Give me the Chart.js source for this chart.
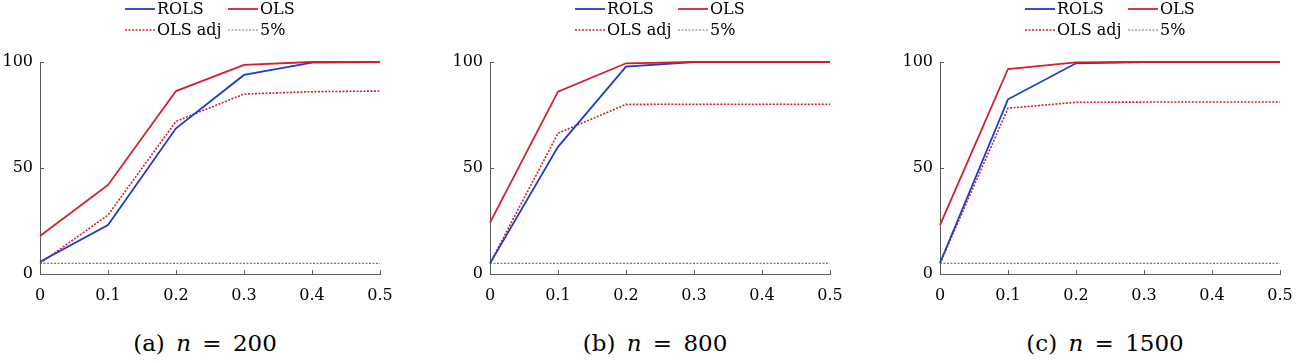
<!DOCTYPE html>
<html>
<head>
<meta charset="utf-8">
<script src="https://cdn.jsdelivr.net/npm/chart.js@4.4.0/dist/chart.umd.min.js"></script>
<style>
    body { margin: 0; width: 1296px; height: 363px; overflow: hidden; background: #fff; position: relative; font-family: "DejaVu Serif", serif; }
    .panel { position: absolute; top: 0; width: 432px; height: 363px; }
    .panel canvas { position: absolute; left: 0; top: 0; }
    .cap { position: absolute; top: 326px; left: 0; width: 410px; text-align: center; font-size: 23px; line-height: 34px; word-spacing: 4px; color: #000; }
</style>
</head>
<body>
<div class="panel" style="left:0px"><canvas id="chartA" width="432" height="310"></canvas><div class="cap" id="capA"></div></div>
<div class="panel" style="left:450px"><canvas id="chartB" width="432" height="310"></canvas><div class="cap" id="capB"></div></div>
<div class="panel" style="left:900px"><canvas id="chartC" width="432" height="310"></canvas><div class="cap" id="capC"></div></div>

<script>
// --- DATA ---
const xLabels = ['0', '0.1', '0.2', '0.3', '0.4', '0.5'];
const yMin = 0, yMax = 100, yStep = 50;
const seriesNames = ['ROLS', 'OLS', 'OLS adj', '5%'];
const panelTags = ['(a)', '(b)', '(c)'];
const sampleSizes = [200, 800, 1500];

const rolsA   = [5.8, 23.1, 68.7, 93.9, 99.7, 100];
const olsA    = [17.9, 42.0, 86.3, 98.6, 100, 100];
const olsAdjA = [5.0, 27.8, 72.0, 84.9, 86.0, 86.3];

const rolsB   = [5.0, 60.0, 97.8, 100, 100, 100];
const olsB    = [24.2, 86.0, 99.4, 100, 100, 100];
const olsAdjB = [5.0, 66.4, 80.0, 80.1, 80.1, 80.1];

const rolsC   = [5.2, 82.4, 99.4, 100, 100, 100];
const olsC    = [23.1, 96.7, 99.8, 100, 100, 100];
const olsAdjC = [5.0, 78.2, 81.0, 81.1, 81.1, 81.1];

const nominal = [5, 5, 5, 5, 5, 5];

// --- STYLE ---
const BLUE = '#1c3dc2';
const RED = '#d21f30';
const GREY = '#7a7a7a';
const AXIS = '#5a5a5a';
const FONT = '"DejaVu Serif", serif';

// legend in a 2x2 grid like the original figure
const gridLegend = {
    id: 'gridLegend',
    afterDraw(chart) {
        const ctx = chart.ctx;
        const mid = (chart.chartArea.left + chart.chartArea.right) / 2;
        const cols = [mid - 85, mid + 18];
        const rows = [9, 30];
        ctx.save();
        ctx.font = '16px ' + FONT;
        ctx.textBaseline = 'middle';
        chart.data.datasets.forEach((ds, i) => {
            const x = cols[i % 2], y = rows[Math.floor(i / 2)];
            ctx.strokeStyle = ds.borderColor;
            ctx.lineWidth = ds.borderWidth;
            ctx.setLineDash(ds.borderDash || []);
            ctx.beginPath();
            ctx.moveTo(x, y);
            ctx.lineTo(x + 30, y);
            ctx.stroke();
            ctx.setLineDash([]);
            ctx.fillStyle = '#000';
            ctx.fillText(ds.label, x + 32, y + 1);
        });
        ctx.restore();
    }
};

// small tick marks pointing into the plot
const inwardTicks = {
    id: 'inwardTicks',
    beforeDatasetsDraw(chart) {
        const { ctx, chartArea: a, scales: { x, y } } = chart;
        ctx.save();
        ctx.strokeStyle = AXIS;
        ctx.lineWidth = 1;
        ctx.beginPath();
        x.ticks.forEach((t, i) => {
            const px = Math.round(x.getPixelForTick(i)) + 0.5;
            ctx.moveTo(px, a.bottom);
            ctx.lineTo(px, a.bottom - 4);
        });
        y.ticks.forEach((t, i) => {
            const py = Math.round(y.getPixelForTick(i)) + 0.5;
            ctx.moveTo(a.left, py);
            ctx.lineTo(a.left + 4, py);
        });
        ctx.stroke();
        ctx.restore();
    }
};

function makeChart(id, rols, ols, olsAdj) {
    const ctx = document.getElementById(id).getContext('2d');
    return new Chart(ctx, {
        type: 'line',
        data: {
            labels: xLabels,
            datasets: [
                { label: seriesNames[0], data: rols, borderColor: BLUE, borderWidth: 1.8, order: 1 },
                { label: seriesNames[1], data: ols, borderColor: RED, borderWidth: 1.8, order: 0 },
                { label: seriesNames[2], data: olsAdj, borderColor: RED, borderWidth: 1.6, borderDash: [2, 1.5], order: 2 },
                { label: seriesNames[3], data: nominal, borderColor: GREY, borderWidth: 1.2, borderDash: [2, 1.5], order: 3 }
            ]
        },
        options: {
            responsive: false,
            animation: false,
            layout: { padding: { top: 62, right: 52, left: 0, bottom: 0 } },
            elements: { point: { radius: 0 }, line: { tension: 0, fill: false } },
            datasets: { line: { clip: false } },
            plugins: { legend: { display: false }, tooltip: { enabled: false } },
            scales: {
                x: {
                    offset: false,
                    grid: { display: false, drawTicks: false },
                    border: { color: AXIS, width: 1 },
                    ticks: { color: '#000', font: { family: FONT, size: 16 }, padding: 12, maxRotation: 0, autoSkip: false },
                    afterFit: s => { s.height = 36; }
                },
                y: {
                    min: yMin, max: yMax,
                    grid: { display: false, drawTicks: false },
                    border: { color: AXIS, width: 1 },
                    ticks: { stepSize: yStep, color: '#000', font: { family: FONT, size: 16 }, padding: 7 },
                    afterFit: s => { s.width = 40; }
                }
            }
        },
        plugins: [inwardTicks, gridLegend]
    });
}

function setCaption(id, i) {
    document.getElementById(id).innerHTML = panelTags[i] + ' <i>n</i> = ' + sampleSizes[i];
}

makeChart('chartA', rolsA, olsA, olsAdjA);
makeChart('chartB', rolsB, olsB, olsAdjB);
makeChart('chartC', rolsC, olsC, olsAdjC);
setCaption('capA', 0);
setCaption('capB', 1);
setCaption('capC', 2);
</script>
</body>
</html>
